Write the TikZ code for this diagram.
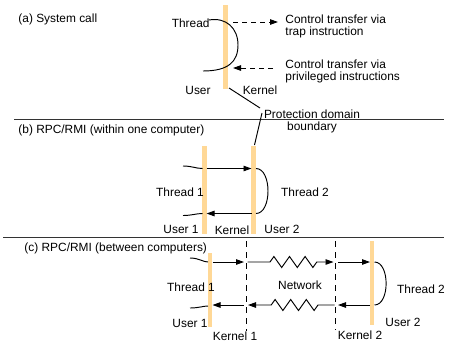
\documentclass[tikz,border=0pt]{standalone}
\usepackage{fontspec}
\setmainfont{Liberation Sans}
\usetikzlibrary{arrows.meta, calc, positioning, decorations.pathmorphing}

\definecolor{barorange}{RGB}{255,216,150}

\tikzset{
    bar/.style={draw=barorange, line width=4.5pt},
    lbl/.style={inner sep=0pt, font=\fontsize{11.9}{12}\selectfont},
    flow/.style={-{Triangle[length=8pt,width=5.5pt]}},
    ctrl/.style={flow, dash pattern=on 5pt off 4pt},
    rule/.style={draw=black!80, line width=1pt},
    border/.style={dash pattern=on 6pt off 5pt},
    spring/.style={decoration={zigzag, segment length=15.6pt, amplitude=5.5pt}}
}

\begin{document}
\begin{tikzpicture}[x=1pt, y=-1pt, line width=0.95pt]
    \useasboundingbox (0,0) rectangle (467,346);

    % (a) System call
    \coordinate (aT) at (225.5,5);
    \coordinate (aB) at (225.5,89);
    \draw[bar] (aT) -- (aB);
    \node[lbl, anchor=west] (capA) at (18,19) {(a) System call};
    \node[lbl, anchor=east] (thrA) at (210,23) {Thread};
    \coordinate (thrIn) at (209,20);
    \coordinate (thrOut) at (203,71);
    \draw (thrIn) .. controls (226,17) and (238,28) .. (238,45)
                  .. controls (238,62) and (228,71) .. (thrOut);
    \coordinate (trapS) at ($(aT)+(7.5,17)$);
    \coordinate (trapE) at (278,22);
    \draw[ctrl] (trapS) -- (trapE);
    \node[lbl, anchor=west, align=left] (trap) at (285,26) {Control transfer via\\trap instruction};
    \coordinate (privS) at (273,68);
    \coordinate (privE) at ($(aT)+(7.5,63)$);
    \draw[ctrl] (privS) -- (privE);
    \node[lbl, anchor=west, align=left] (priv) at (285,71) {Control transfer via\\privileged instructions};
    \node[lbl] (userA) at (198,90) {User};
    \node[lbl] (kernA) at (260,90) {Kernel};

    % Protection domain boundary
    \coordinate (sep1L) at (14,119.5);
    \coordinate (sep1R) at (444,119.5);
    \draw[rule] (sep1L) -- (sep1R);
    \node[lbl, align=center] (pdb) at (312,121) {Protection domain\\boundary};
    \coordinate (pdFoot) at ($(aB)+(3.5,-1)$);
    \coordinate (pdKnee) at (260,108);
    \coordinate (pdTail) at (262,113);
    \draw (pdFoot) -- (pdKnee);

    % (b) RPC/RMI within one computer
    \node[lbl, anchor=west] (capB) at (18,130) {(b) RPC/RMI (within one computer)};
    \coordinate (b1T) at (204.5,146);
    \coordinate (b1B) at (204.5,234);
    \coordinate (b2T) at (253.5,146);
    \coordinate (b2B) at (253.5,234);
    \draw (pdTail) -- ($(b2T)+(1,-1)$);
    \draw[bar] (b1T) -- (b1B);
    \draw[bar] (b2T) -- (b2B);
    \draw (183,166) .. controls (192,166) and (196,168.5) .. ($(b1T)+(-2,22.5)$);
    \draw[flow] ($(b1T)+(2,22.5)$) -- ($(b2T)+(-2,22.5)$);
    \draw ($(b2T)+(2.5,22.5)$) .. controls (272,168.5) and (272,213.5) .. ($(b2T)+(2.5,67.5)$);
    \draw[flow] ($(b2T)+(-2,67.5)$) -- ($(b1T)+(2,67.5)$);
    \draw (183,215.5) .. controls (192,215.5) and (196,213.5) .. ($(b1T)+(-2,67.5)$);
    \node[lbl] (thrB1) at (180,192) {Thread 1};
    \node[lbl] (thrB2) at (305,192) {Thread 2};
    \node[lbl] (userB1) at (181,229) {User 1};
    \node[lbl] (kernB) at (232,230) {Kernel};
    \node[lbl] (userB2) at (282,229) {User 2};

    \coordinate (sep2L) at (3,237.5);
    \coordinate (sep2R) at (444,237.5);
    \draw[rule] (sep2L) -- (sep2R);

    % (c) RPC/RMI between computers
    \node[lbl, anchor=west] (capC) at (24,248) {(c) RPC/RMI (between computers)};
    \coordinate (c1T) at (210,253);
    \coordinate (c1B) at (210,327);
    \coordinate (c2T) at (372,241);
    \coordinate (c2B) at (372,325);
    \coordinate (d1T) at (246,241);
    \coordinate (d1B) at (246,331);
    \coordinate (d2T) at (335,241);
    \coordinate (d2B) at (335,330);
    \draw[bar] (c1T) -- (c1B);
    \draw[bar] (c2T) -- (c2B);
    \draw[border] (d1T) -- (d1B);
    \draw[border] (d2T) -- (d2B);

    % request row
    \draw (190,258) .. controls (199,258) and (203,262) .. (208,262);
    \draw[flow] (212.5,262) -- ($(d1T)+(-2,21)$);
    \draw[flow] ($(d1T)+(1.5,21)$) -- (270,262) decorate[spring]{-- (317,262)} -- ($(d2T)+(-1.5,21)$);
    \draw[flow] ($(d2T)+(3,21)$) -- ($(c2T)+(-2,21)$);
    \draw ($(c2T)+(2.5,21)$) .. controls (390,262) and (390,305) .. ($(c2T)+(2.5,64)$);

    % reply row
    \draw[flow] ($(c2T)+(-2,64)$) -- ($(d2T)+(3,64)$);
    \draw[flow] ($(d2T)+(-0.5,64)$) -- (318,305) decorate[spring]{-- (271,305)} -- ($(d1T)+(2,64)$);
    \draw[flow] ($(d1T)+(-2.5,64)$) -- (212.5,305);
    \draw (190,308) .. controls (199,308) and (203,306) .. (208,306);

    \node[lbl] (thrC1) at (191,287) {Thread 1};
    \node[lbl] (userC1) at (190,323) {User 1};
    \node[lbl] (net) at (300,285) {Network};
    \node[lbl] (thrC2) at (421,289) {Thread 2};
    \node[lbl] (userC2) at (403,322) {User 2};
    \node[lbl] (kernC1) at (235,336) {Kernel 1};
    \node[lbl] (kernC2) at (360,335) {Kernel 2};

\end{tikzpicture}
\end{document}
